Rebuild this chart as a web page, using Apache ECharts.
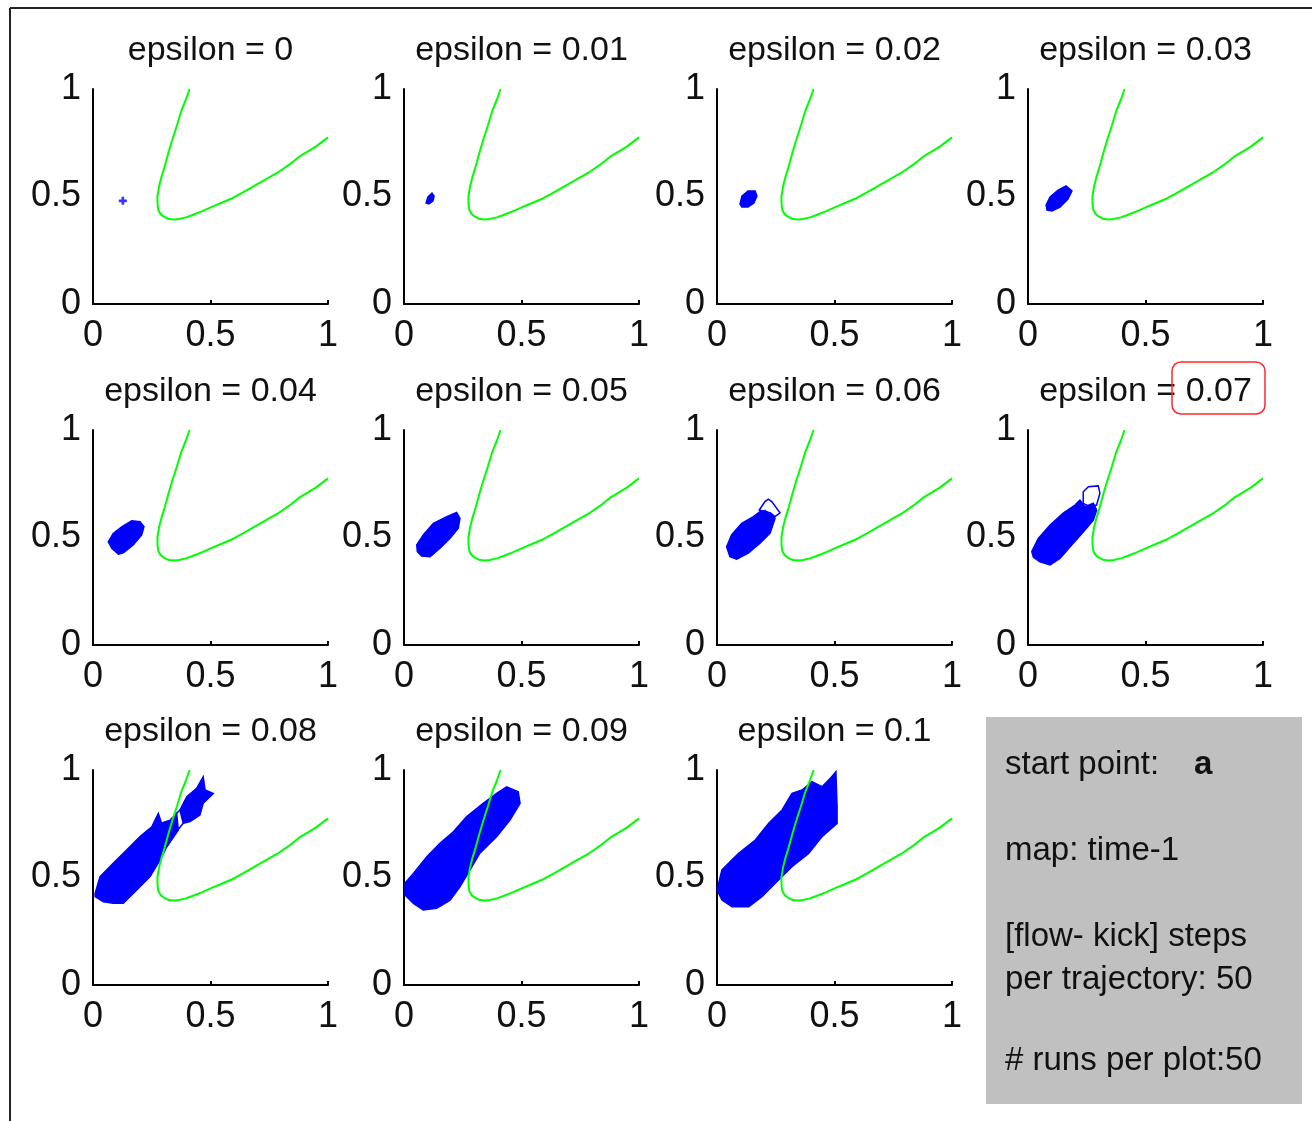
<!DOCTYPE html>
<html>
<head>
<meta charset="utf-8">
<script src="https://cdn.jsdelivr.net/npm/echarts@6/dist/echarts.min.js"></script>
<style>
html,body{margin:0;padding:0;background:#fff;}
#chart{width:1312px;height:1121px;}
</style>
</head>
<body>
<div id="chart"></div>
<script>
// ---------- DATA ----------
const epsilons = ['0', '0.01', '0.02', '0.03', '0.04', '0.05', '0.06', '0.07', '0.08', '0.09', '0.1'];
const tickValues = [0, 0.5, 1];
const tickLabels = ['0', '0.5', '1'];

// green reference curve (same in every panel)
const greenCurve = [
  [0.411,1.0],[0.395,0.95],[0.377,0.902],[0.357,0.83],[0.337,0.763],[0.32,0.70],
  [0.305,0.639],[0.291,0.59],[0.281,0.546],[0.274,0.499],[0.275,0.46],[0.278,0.437],
  [0.288,0.418],[0.302,0.406],[0.323,0.395],[0.345,0.393],[0.366,0.395],[0.395,0.403],
  [0.423,0.414],[0.465,0.432],[0.508,0.453],[0.55,0.472],[0.593,0.492],[0.64,0.52],
  [0.692,0.553],[0.74,0.583],[0.791,0.615],[0.835,0.648],[0.877,0.685],[0.915,0.71],
  [0.948,0.732],[1.0,0.775]
];

// start point (epsilon = 0)
const startPoint = [[0.127, 0.48]];

// blue cloud outlines per epsilon
const cloud001 = [[0.094,0.470],[0.102,0.498],[0.119,0.516],[0.128,0.502],[0.123,0.479],[0.106,0.465]];
const cloud002 = [[0.098,0.465],[0.106,0.502],[0.132,0.526],[0.162,0.526],[0.170,0.502],[0.157,0.470],[0.132,0.451],[0.106,0.451]];
const cloud003 = [[0.077,0.460],[0.094,0.498],[0.128,0.530],[0.162,0.549],[0.187,0.526],[0.170,0.488],[0.136,0.451],[0.102,0.433],[0.081,0.437]];
const cloud004 = [[0.065,0.480],[0.086,0.519],[0.122,0.550],[0.165,0.578],[0.200,0.574],[0.217,0.550],[0.207,0.512],[0.171,0.465],[0.129,0.429],[0.108,0.423],[0.080,0.450]];
const cloud005 = [[0.054,0.465],[0.082,0.512],[0.125,0.566],[0.182,0.597],[0.224,0.617],[0.238,0.589],[0.231,0.543],[0.196,0.496],[0.153,0.450],[0.111,0.411],[0.075,0.414],[0.057,0.434]];
const cloud006 = [[0.041,0.457],[0.062,0.512],[0.105,0.566],[0.155,0.597],[0.183,0.620],[0.204,0.625],[0.240,0.600],[0.247,0.589],[0.226,0.520],[0.183,0.473],[0.133,0.427],[0.084,0.399],[0.055,0.411]];
const cloud007 = [[0.016,0.434],[0.044,0.496],[0.094,0.558],[0.150,0.613],[0.200,0.651],[0.221,0.674],[0.243,0.643],[0.278,0.659],[0.292,0.628],[0.278,0.581],[0.236,0.527],[0.186,0.465],[0.136,0.403],[0.094,0.372],[0.051,0.387],[0.023,0.408]];
const cloud008 = [[0.009,0.426],[0.030,0.504],[0.086,0.566],[0.143,0.628],[0.200,0.690],[0.250,0.736],[0.278,0.798],[0.292,0.752],[0.335,0.767],[0.356,0.798],[0.363,0.721],[0.314,0.643],[0.285,0.581],[0.243,0.504],[0.186,0.442],[0.129,0.380],[0.086,0.380],[0.044,0.387],[0.009,0.411]];
const cloud009 = [[0.004,0.473],[0.040,0.519],[0.097,0.597],[0.153,0.659],[0.210,0.713],[0.267,0.783],[0.337,0.845],[0.394,0.891],[0.437,0.922],[0.486,0.899],[0.494,0.845],[0.451,0.767],[0.394,0.690],[0.323,0.613],[0.281,0.535],[0.238,0.457],[0.196,0.395],[0.139,0.357],[0.082,0.349],[0.040,0.380],[0.004,0.419]];
const cloud010 = [[0.000,0.442],[0.021,0.535],[0.092,0.612],[0.163,0.674],[0.220,0.752],[0.277,0.814],[0.319,0.891],[0.362,0.907],[0.404,0.946],[0.447,0.922],[0.482,0.961],[0.506,0.992],[0.511,0.829],[0.511,0.752],[0.447,0.690],[0.390,0.612],[0.319,0.550],[0.248,0.473],[0.191,0.411],[0.135,0.364],[0.064,0.364],[0.021,0.395]];

// sparse trajectory loops (drawn as outlines)
const loop006 = [[0.180,0.628],[0.204,0.667],[0.218,0.678],[0.233,0.667],[0.268,0.615],[0.247,0.597],[0.226,0.615],[0.204,0.620]];
const loop007 = [[0.235,0.659],[0.235,0.713],[0.257,0.736],[0.299,0.740],[0.306,0.706],[0.292,0.651],[0.264,0.643]];
const tuft008 = [[0.370,0.814],[0.399,0.876],[0.441,0.915],[0.469,0.969],[0.477,0.907],[0.512,0.891],[0.469,0.845],[0.455,0.791],[0.413,0.760],[0.384,0.752]];
const strand008a = [[0.292,0.752],[0.328,0.767],[0.370,0.814]];
const strand008b = [[0.314,0.643],[0.349,0.705],[0.384,0.752]];

const clouds = [null, cloud001, cloud002, cloud003, cloud004, cloud005, cloud006, cloud007, cloud008, cloud009, cloud010];
const loops = {6: [loop006], 7: [loop007], 8: [tuft008]};
const strands = {8: [strand008a, strand008b]};

// box texts
const boxLines = ['start point:', 'map: time-1', '[flow- kick] steps', 'per trajectory: 50', '# runs per plot:50'];
const startLabel = 'a';

// ---------- LAYOUT ----------
const colLeft = [93, 404, 717, 1028];
const rowTop = [89, 430, 770];
const gw = 235, gh = 215;
const FONT = "'Liberation Sans', Arial, sans-serif";
const TXT = '#111';

const chart = echarts.init(document.getElementById('chart'), null, {renderer: 'canvas'});

const grids = [], xAxes = [], yAxes = [], titles = [], series = [];

function polySeries(idx, pts, filled) {
  return {
    type: 'custom', xAxisIndex: idx, yAxisIndex: idx, silent: true, z: 2,
    data: pts,
    encode: {x: 0, y: 1},
    renderItem: function (params, api) {
      if (params.dataIndex !== 0) return null;
      const p = pts.map(d => api.coord(d));
      return {
        type: 'polygon',
        shape: {points: p},
        style: filled
          ? {fill: '#0000ff', stroke: '#0000ff', lineWidth: 1.5}
          : {fill: 'none', stroke: '#0000ff', lineWidth: 1.5}
      };
    }
  };
}

epsilons.forEach((eps, i) => {
  const r = Math.floor(i / 4), c = i % 4;
  const left = colLeft[c], top = rowTop[r];
  grids.push({left: left, top: top, width: gw, height: gh, containLabel: false});
  const labelFmt = v => { const k = tickValues.indexOf(v); return k >= 0 ? tickLabels[k] : ''; };
  xAxes.push({
    gridIndex: i, type: 'value', min: 0, max: 1, interval: 0.5,
    axisLine: {show: true, onZero: false, lineStyle: {color: '#000', width: 2}},
    axisTick: {show: true, inside: true, length: 4, lineStyle: {color: '#000', width: 2}},
    splitLine: {show: false},
    axisLabel: {show: true, margin: 14, fontSize: 36, fontFamily: FONT, color: TXT, formatter: labelFmt, showMinLabel: true, showMaxLabel: true}
  });
  yAxes.push({
    gridIndex: i, type: 'value', min: 0, max: 1, interval: 0.5,
    axisLine: {show: true, onZero: false, lineStyle: {color: '#000', width: 2}},
    axisTick: {show: false},
    splitLine: {show: false},
    axisLabel: {show: true, margin: 12, padding: [5, 0, 0, 0], fontSize: 36, fontFamily: FONT, color: TXT, formatter: labelFmt, showMinLabel: true, showMaxLabel: true}
  });
  titles.push({
    text: 'epsilon = ' + eps,
    left: left + gw / 2, top: top - 55, textAlign: 'center', padding: 0,
    textStyle: {fontSize: 34, fontWeight: 'normal', fontFamily: FONT, color: TXT}
  });

  if (i === 0) {
    series.push({
      type: 'scatter', xAxisIndex: i, yAxisIndex: i, silent: true, data: startPoint,
      symbol: 'path://M2 0h2v2h2v2h-2v2h-2v-2h-2v-2h2z', symbolSize: 8,
      itemStyle: {color: '#0000ff'}
    });
  } else {
    series.push(polySeries(i, clouds[i], true));
  }
  (loops[i] || []).forEach(lp => series.push(polySeries(i, lp, i === 8)));
  (strands[i] || []).forEach(st => series.push({
    type: 'line', xAxisIndex: i, yAxisIndex: i, silent: true, data: st, showSymbol: false,
    lineStyle: {color: '#0000ff', width: 1.5}, z: 2
  }));
  series.push({
    type: 'line', xAxisIndex: i, yAxisIndex: i, silent: true, data: greenCurve,
    showSymbol: false, smooth: false, z: 3,
    lineStyle: {color: '#00ff00', width: 2}
  });
});

const graphics = [
  // figure frame (left and top edges)
  {type: 'line', shape: {x1: 10, y1: 8, x2: 10, y2: 1121}, style: {stroke: '#222', lineWidth: 2}},
  {type: 'line', shape: {x1: 10, y1: 8, x2: 1312, y2: 8}, style: {stroke: '#222', lineWidth: 2}},
  // info box
  {type: 'rect', shape: {x: 986, y: 717, width: 316, height: 387}, style: {fill: '#c0c0c0'}},
  {type: 'text', x: 1005, y: 765, style: {text: boxLines[0], font: '33px ' + FONT, fill: TXT, textVerticalAlign: 'middle'}},
  {type: 'text', x: 1194, y: 765, style: {text: startLabel, font: 'bold 33px ' + FONT, fill: TXT, textVerticalAlign: 'middle'}},
  {type: 'text', x: 1005, y: 851, style: {text: boxLines[1], font: '33px ' + FONT, fill: TXT, textVerticalAlign: 'middle'}},
  {type: 'text', x: 1005, y: 937, style: {text: boxLines[2], font: '33px ' + FONT, fill: TXT, textVerticalAlign: 'middle'}},
  {type: 'text', x: 1005, y: 980, style: {text: boxLines[3], font: '33px ' + FONT, fill: TXT, textVerticalAlign: 'middle'}},
  {type: 'text', x: 1005, y: 1061, style: {text: boxLines[4], font: '33px ' + FONT, fill: TXT, textVerticalAlign: 'middle'}},
  // red highlight around 0.07
  {type: 'rect', shape: {x: 1172, y: 362, width: 93, height: 52, r: 9}, style: {fill: 'none', stroke: '#ff2a2a', lineWidth: 1.5}, z: 10}
];

chart.setOption({
  animation: false,
  backgroundColor: '#ffffff',
  title: titles,
  grid: grids,
  xAxis: xAxes,
  yAxis: yAxes,
  series: series,
  graphic: graphics
});
</script>
</body>
</html>
